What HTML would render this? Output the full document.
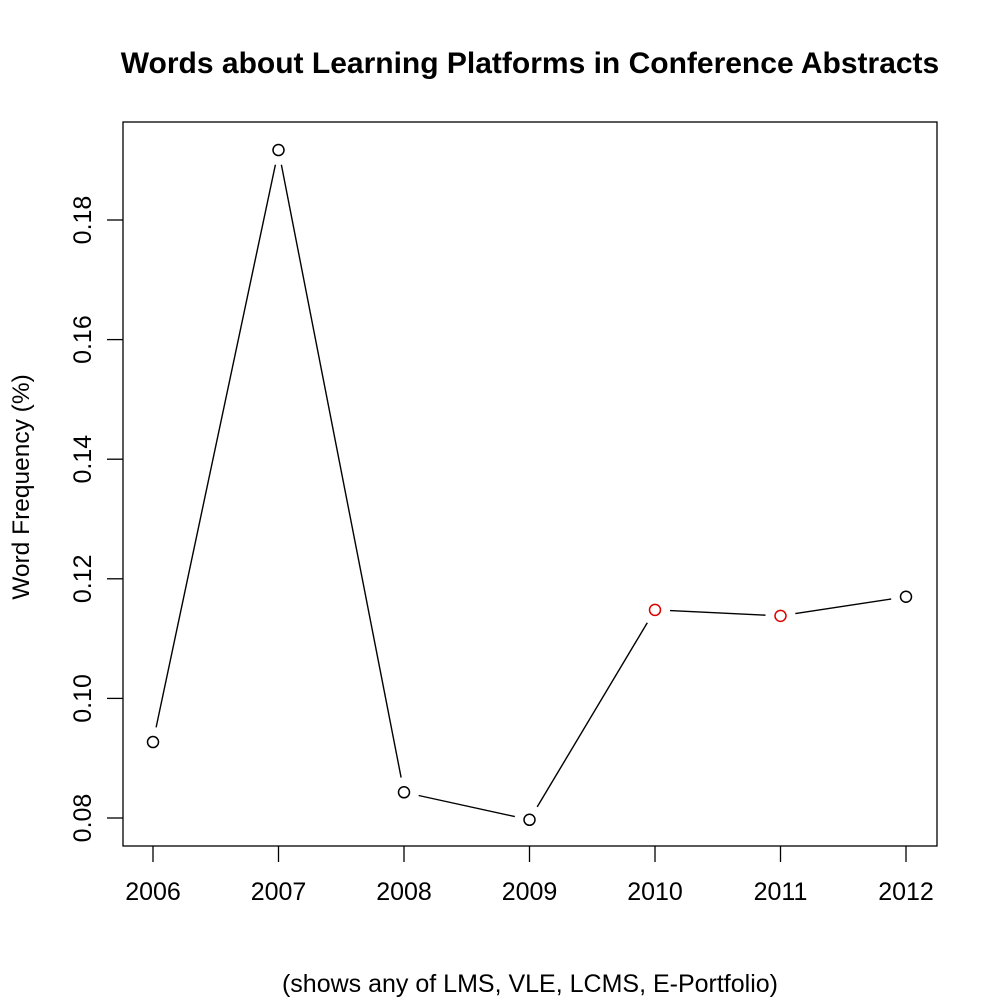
<!DOCTYPE html>
<html><head><meta charset="utf-8"><style>
html,body{margin:0;padding:0;background:#fff;}
svg{display:block;font-family:"Liberation Sans",sans-serif;}
</style></head><body>
<svg id="chart" width="1000" height="1000" viewBox="0 0 1000 1000">
<rect width="1000" height="1000" fill="#fff"/>
<text x="530" y="73" text-anchor="middle" font-size="30" font-weight="bold">Words about Learning Platforms in Conference Abstracts</text>
<rect x="123" y="122" width="814" height="724" fill="none" stroke="#000" stroke-width="1.3"/>
<text transform="translate(29,487) rotate(-90)" text-anchor="middle" font-size="24.5">Word Frequency (%)</text>
<text x="530" y="992" text-anchor="middle" font-size="25">(shows any of LMS, VLE, LCMS, E-Portfolio)</text>
<g id="axes"></g>
<g id="marks"></g>
</svg>
<script>
const years = [2006, 2007, 2008, 2009, 2010, 2011, 2012];
const values = [0.0927, 0.1917, 0.0843, 0.0797, 0.1148, 0.1138, 0.1170];
const pointColors = ["#000", "#000", "#000", "#000", "#d00", "#d00", "#000"];
const yTicks = [0.08, 0.10, 0.12, 0.14, 0.16, 0.18];
const yTickLabels = ["0.08", "0.10", "0.12", "0.14", "0.16", "0.18"];

const NS = "http://www.w3.org/2000/svg";
function xs(v){ return 153 + (v - 2006) * 125.5; }
function ys(v){ return 818 - (v - 0.08) * 5980; }
function mk(tag, attrs, parent){ const e = document.createElementNS(NS, tag); for (const k in attrs) e.setAttribute(k, attrs[k]); parent.appendChild(e); return e; }
const axes = document.getElementById('axes');
const marks = document.getElementById('marks');

years.forEach((yr) => {
  const t = mk('line', {x1: xs(yr), x2: xs(yr), y1: 846, y2: 862, stroke: '#000', 'stroke-width': 1.3}, axes);
  
  
  const l = mk('text', {x: xs(yr), y: 900, 'text-anchor': 'middle', 'font-size': 25}, axes);
  l.textContent = yr;
  
  
});
yTicks.forEach((v, i) => {
  const t = mk('line', {x1: 107, x2: 123, y1: ys(v), y2: ys(v), stroke: '#000', 'stroke-width': 1.3}, axes);
  
  
  const l = mk('text', {transform: `translate(91,${ys(v)}) rotate(-90)`, 'text-anchor': 'middle', 'font-size': 25}, axes);
  l.textContent = yTickLabels[i];
  
  
});
const gap = 15;
for (let i = 0; i < years.length - 1; i++) {
  const x1 = xs(years[i]), y1 = ys(values[i]), x2 = xs(years[i+1]), y2 = ys(values[i+1]);
  const d = Math.hypot(x2 - x1, y2 - y1);
  if (d <= 2 * gap) continue;
  const ux = (x2 - x1) / d, uy = (y2 - y1) / d;
  const s = mk('line', {x1: x1 + ux*gap, y1: y1 + uy*gap, x2: x2 - ux*gap, y2: y2 - uy*gap, stroke: '#000', 'stroke-width': 1.4}, marks);
  
  
}
years.forEach((yr, i) => {
  const c = mk('circle', {cx: xs(yr), cy: ys(values[i]), r: 5.5, fill: 'none', stroke: pointColors[i], 'stroke-width': 1.5}, marks);
  
  
});
</script>
</body></html>
